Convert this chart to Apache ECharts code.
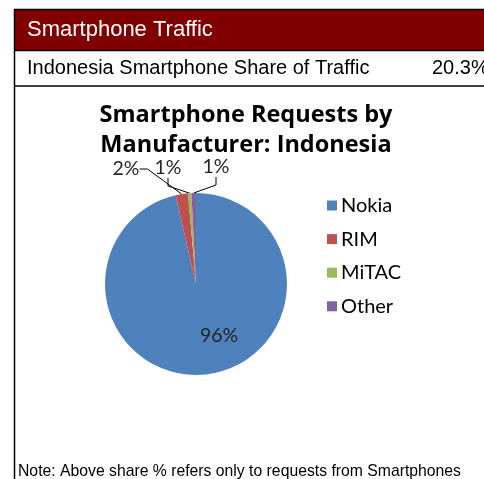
<!DOCTYPE html>
<html>
<head>
<meta charset="utf-8">
<script src="https://cdn.jsdelivr.net/npm/echarts@6/dist/echarts.min.js"></script>
<style>
html,body{margin:0;padding:0;background:#fff;}
#c{width:484px;height:479px;}
</style>
</head>
<body>
<div id="c"></div>
<script>
// ---- data ----
const categories = ['Nokia', 'RIM', 'MiTAC', 'Other'];
const shares = [96.4, 2.2, 0.6, 0.8];
const headerTitle = 'Smartphone Traffic';
const rowLabel = 'Indonesia Smartphone Share of Traffic';
const rowValue = '20.3%';
const chartTitle = 'Smartphone Requests by\nManufacturer: Indonesia';
const noteText = 'Note: Above share % refers only to requests from Smartphones';

// ---- styles ----
const colors = ['#4F81BD', '#C0504D', '#9BBB59', '#8064A2'];
const labelPos = [
  {x: 219, y: 336},
  {x: 126, y: 169},
  {x: 168, y: 168},
  {x: 216, y: 167}
];

const chart = echarts.init(document.getElementById('c'));
const data = categories.map((n, i) => ({name: n, value: shares[i]}));

chart.setOption({
  animation: false,
  color: colors,
  title: {
    text: chartTitle,
    left: 241, top: 95,
    textAlign: 'center',
    textStyle: {fontFamily: 'Open Sans', fontWeight: 'bold', fontSize: 23.5, lineHeight: 30, color: '#000'}
  },
  legend: {
    orient: 'vertical',
    left: 322, top: 190,
    icon: 'rect',
    itemWidth: 10, itemHeight: 10,
    itemGap: 12.6,
    data: categories,
    textStyle: {fontFamily: 'Lato', fontSize: 20, color: '#000', lineHeight: 21, padding: [0,0,0,-1]}
  },
  series: [{
    type: 'pie',
    center: [196, 284],
    radius: 91,
    startAngle: 90,
    clockwise: true,
    data: data,
    itemStyle: {borderWidth: 0},
    label: {
      show: true,
      position: 'outside',
      formatter: p => Math.round(p.percent) + '%',
      fontFamily: 'Lato', fontSize: 19.5, color: '#262626'
    },
    labelLine: {show: true, length: 10, length2: 8, lineStyle: {color: '#000', width: 1}},
    labelLayout: function (p) {
      const lp = labelPos[p.dataIndex];
      return {x: lp.x, y: lp.y, align: 'center', verticalAlign: 'middle'};
    },
    emphasis: {disabled: true}
  }],
  graphic: [
    {type: 'rect', shape: {x: 14, y: 9, width: 480, height: 41}, style: {fill: '#800000'}},
    {type: 'line', shape: {x1: 14, y1: 9.5, x2: 484, y2: 9.5}, style: {stroke: '#000', lineWidth: 1.5}},
    {type: 'line', shape: {x1: 14, y1: 50.5, x2: 484, y2: 50.5}, style: {stroke: '#000', lineWidth: 1.5}},
    {type: 'line', shape: {x1: 14, y1: 86, x2: 484, y2: 86}, style: {stroke: '#000', lineWidth: 1.5}},
    {type: 'line', shape: {x1: 14.5, y1: 9, x2: 14.5, y2: 479}, style: {stroke: '#000', lineWidth: 1.5}},
    {type: 'text', x: 27, y: 30, style: {text: headerTitle, fill: '#fff', font: '22px "Liberation Sans", Arial', verticalAlign: 'middle'}},
    {type: 'text', x: 27, y: 68, style: {text: rowLabel, fill: '#000', font: '20px "Liberation Sans", Arial', verticalAlign: 'middle'}},
    {type: 'text', x: 432, y: 68, style: {text: rowValue, fill: '#000', font: '20px "Liberation Sans", Arial', verticalAlign: 'middle'}},
    {type: 'text', x: 18, y: 472, style: {text: noteText, fill: '#000', font: '15.75px "Liberation Sans", Arial', verticalAlign: 'middle'}}
  ]
});
</script>
</body>
</html>
